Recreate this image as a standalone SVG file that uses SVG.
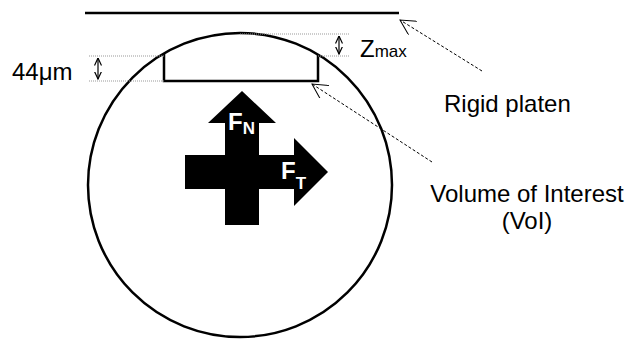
<svg xmlns="http://www.w3.org/2000/svg" width="632" height="339" viewBox="0 0 632 339">
  <style>
    .lbl { font-family: "Liberation Sans", Arial, sans-serif; font-size: 24px; fill: #000; }
    .force { font-family: "Liberation Sans", Arial, sans-serif; font-weight: bold; fill: #fff; }
    .dot { stroke: #999; stroke-width: 1; stroke-dasharray: 1 1; fill: none; }
    .lead { stroke: #000; stroke-width: 1; stroke-dasharray: 3 2; fill: none; }
    .thick { stroke: #000; stroke-width: 2.5; fill: none; }
    .dim { stroke: #000; stroke-width: 1.2; fill: none; }
  </style>
  <defs>
    <marker id="openArrow" viewBox="0 0 16 16" refX="15" refY="8" markerWidth="16" markerHeight="16" markerUnits="userSpaceOnUse" orient="auto">
      <path d="M0,0 L15,8 L0,16" fill="none" stroke="#000" stroke-width="1"/>
    </marker>
    <marker id="dimArrow" viewBox="0 0 8 8" refX="7.5" refY="4" markerWidth="8" markerHeight="8" markerUnits="userSpaceOnUse" orient="auto-start-reverse">
      <path d="M0,0.5 L7.5,4 L0,7.5" fill="none" stroke="#000" stroke-width="1.2"/>
    </marker>
  </defs>

  <g id="platen">
    <line class="thick" x1="85" y1="13" x2="399" y2="13"/>
  </g>

  <g id="specimen">
    <circle class="thick" cx="240" cy="185" r="152"/>
  </g>

  <g id="voi">
    <path class="thick" d="M164,54 V81 H318 V55"/>
  </g>

  <g id="dimensions">
    <line class="dot" x1="240" y1="34" x2="349" y2="34"/>
    <line class="dot" x1="318" y1="56" x2="349" y2="56"/>
    <line class="dot" x1="89" y1="56" x2="164" y2="56"/>
    <line class="dot" x1="89" y1="81" x2="164" y2="81"/>
    <line class="dim" x1="98" y1="58" x2="98" y2="79" marker-start="url(#dimArrow)" marker-end="url(#dimArrow)"/>
    <line class="dim" x1="339" y1="36" x2="339" y2="54" marker-start="url(#dimArrow)" marker-end="url(#dimArrow)"/>
    <text class="lbl" x="12" y="80">44μm</text>
    <text class="lbl" x="360" y="57">Z<tspan font-size="17" dy="0">max</tspan></text>
  </g>

  <g id="forces">
    <path d="M242,91 L276,123 L259,123 L259,155 L294,155 L294,138 L328,172 L294,206 L294,189 L259,189 L259,225 L225,225 L225,189 L185,189 L185,155 L225,155 L225,123 L208,123 Z" fill="#000"/>
    <text class="force" x="228" y="130" font-size="24">F<tspan font-size="17" dy="4">N</tspan></text>
    <text class="force" x="281" y="179" font-size="24">F<tspan font-size="17" dy="10">T</tspan></text>
  </g>

  <g id="connectors">
    <line class="lead" x1="482" y1="71" x2="400" y2="20" marker-end="url(#openArrow)"/>
    <line class="lead" x1="432" y1="162" x2="312" y2="84" marker-end="url(#openArrow)"/>
  </g>

  <g id="labels">
    <text class="lbl" x="444" y="112">Rigid platen</text>
    <text class="lbl" x="527" y="202" text-anchor="middle">Volume of Interest</text>
    <text class="lbl" x="527" y="229" text-anchor="middle">(VoI)</text>
  </g>
</svg>
